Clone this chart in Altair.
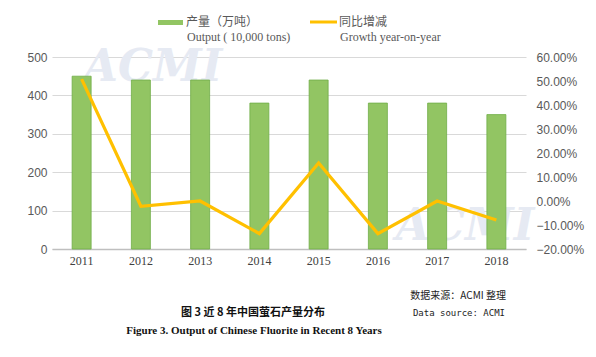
import altair as alt
import pandas as pd

years = ["2011", "2012", "2013", "2014", "2015", "2016", "2017", "2018"]
output = [450, 440, 440, 380, 440, 380, 380, 350]
growth = [0.508, -0.022, 0.0, -0.136, 0.158, -0.136, 0.0, -0.079]

df = pd.DataFrame({"year": years, "output": output, "growth": growth})

W, H = 474, 192

x_enc = alt.X("year:N", sort=years, title=None,
              scale=alt.Scale(paddingInner=0.0, paddingOuter=0.0),
              axis=alt.Axis(labelAngle=0, labelFont="Liberation Serif", labelFontSize=12,
                            labelColor="#404040", domainColor="#bfbfbf", domainWidth=1.5,
                            ticks=False, labelPadding=6))

base = alt.Chart(df)


def watermark(x, y):
    return alt.Chart(pd.DataFrame({"t": ["ACMI"]})).mark_text(
        font="DejaVu Serif", fontSize=44, fontWeight="bold", fontStyle="italic",
        color="#e6eaf3", baseline="alphabetic", align="center"
    ).encode(x=alt.value(x - 52), y=alt.value(y - 57), text="t:N")


wm1 = watermark(153, 81)
wm2 = watermark(465, 240)

bars = base.mark_bar(size=19, fill="#92c563", stroke="#70ad47", strokeWidth=0.8).encode(
    x=x_enc,
    y=alt.Y("output:Q", title=None,
            scale=alt.Scale(domain=[0, 500]),
            axis=alt.Axis(values=[0, 100, 200, 300, 400, 500], labelFont="Liberation Sans",
                          labelFontSize=12, labelColor="#595959", domain=False, ticks=False,
                          gridColor="#d9d9d9", labelPadding=5)),
)

line = base.mark_line(color="#ffc000", strokeWidth=3.2).encode(
    x=alt.X("year:N", sort=years),
    y=alt.Y("growth:Q", title=None,
            scale=alt.Scale(domain=[-0.2, 0.6]),
            axis=alt.Axis(orient="right", values=[-0.2, -0.1, 0, 0.1, 0.2, 0.3, 0.4, 0.5, 0.6],
                          format=".2%", labelFont="Liberation Sans", labelFontSize=12,
                          labelColor="#595959", domain=False, ticks=False, grid=False,
                          labelPadding=10)),
)


def txt(s, x, y, font, size, color="#595959", align="left", weight="normal"):
    return alt.Chart(pd.DataFrame({"t": [s]})).mark_text(
        font=font, fontSize=size, color=color, align=align, baseline="middle", fontWeight=weight
    ).encode(x=alt.value(x - 52), y=alt.value(y - 57), text="t:N")


leg_bar = alt.Chart(pd.DataFrame({"a": [1]})).mark_rect(fill="#92c563").encode(
    x=alt.value(158 - 52), x2=alt.value(183 - 52), y=alt.value(20 - 57), y2=alt.value(25 - 57))
leg_line = alt.Chart(pd.DataFrame({"a": [1]})).mark_rule(color="#ffc000", strokeWidth=3).encode(
    x=alt.value(310 - 52), x2=alt.value(337 - 52), y=alt.value(22 - 57))

texts = [
    txt("产量（万吨）", 186, 22, "Noto Sans CJK SC", 12),
    txt("Output ( 10,000 tons)", 187, 37, "Liberation Serif", 12),
    txt("同比增减", 339, 22, "Noto Sans CJK SC", 12),
    txt("Growth year-on-year", 340, 37, "Liberation Serif", 12),
    txt("数据来源：ACMI 整理", 506, 296, "Noto Sans CJK SC", 10, "#222222", "right"),
    txt("Data source: ACMI", 505, 313, "DejaVu Sans Mono", 9, "#222222", "right"),
    txt("图 3  近 8 年中国萤石产量分布", 253, 313, "Noto Sans CJK SC", 11, "#111111", "center", "bold"),
    txt("Figure 3. Output of Chinese Fluorite in Recent 8 Years", 254, 331, "Liberation Serif", 11, "#111111", "center", "bold"),
]

chart = alt.layer(wm1, wm2, bars, line, leg_bar, leg_line, *texts).resolve_scale(
    y="independent"
).properties(
    width=W, height=H,
    autosize=alt.AutoSizeParams(type="none"),
    padding={"left": 52, "top": 57, "right": 70, "bottom": 108},
    background="white",
).configure_view(stroke=None)

chart.save("out.html", embed_options={"renderer": "svg", "actions": False})
